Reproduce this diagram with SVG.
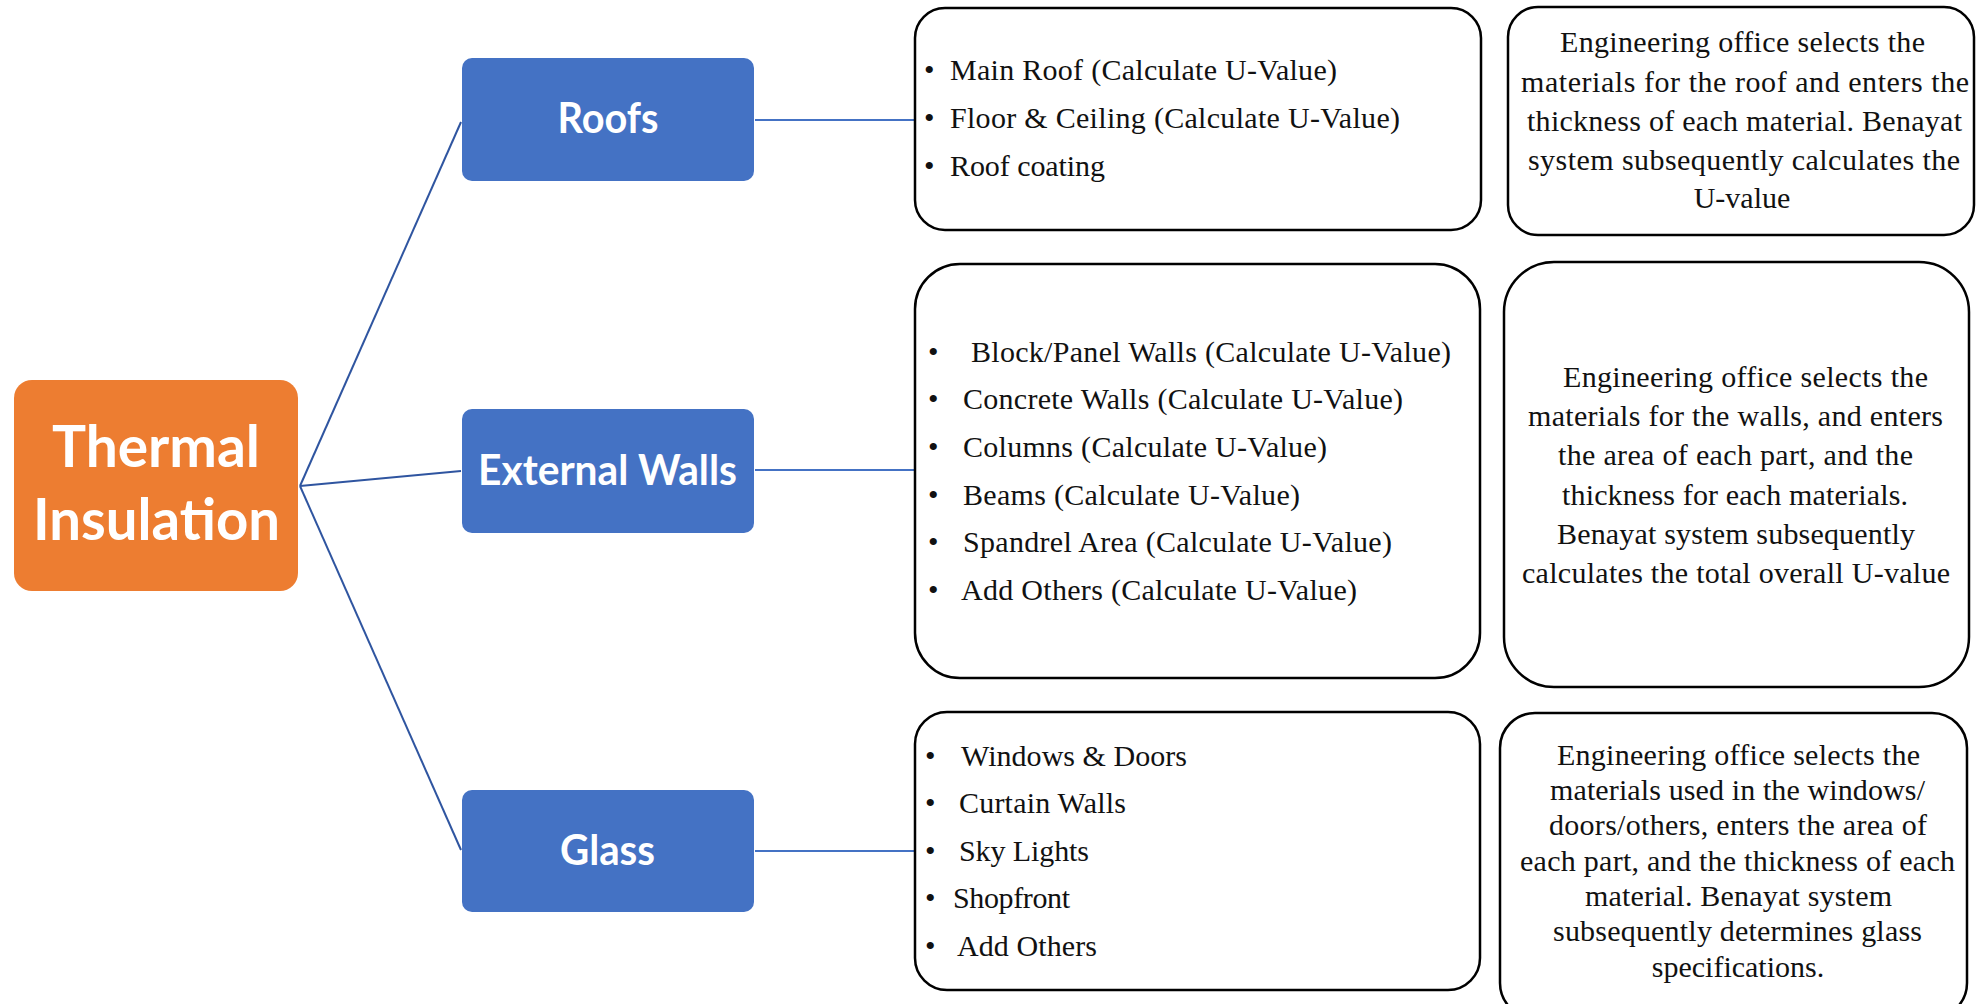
<svg xmlns="http://www.w3.org/2000/svg" width="1980" height="1004" viewBox="0 0 1980 1004">
<style>
.node{fill:#4472C4;}
.root{fill:#ED7D31;}
.lbl{font-family:Lato,"Open Sans","Liberation Sans",sans-serif;font-weight:700;fill:#fff;text-anchor:middle;}
.box{fill:#fff;stroke:#000;stroke-width:2.5;}
.t{font-family:"Liberation Serif","Times New Roman",serif;font-size:30px;fill:#111;}
.c{stroke:#4472C4;stroke-width:2;fill:none;}
.f{stroke:#2F55A0;stroke-width:2;fill:none;}
</style>
<rect width="1980" height="1004" fill="#fff"/>
<g id="connectors">
<line class="f" x1="300" y1="486" x2="461" y2="122"/>
<line class="f" x1="300" y1="486" x2="461" y2="471"/>
<line class="f" x1="300" y1="486" x2="461" y2="850"/>
<line class="c" x1="755" y1="120" x2="915" y2="120"/>
<line class="c" x1="755" y1="470" x2="915" y2="470"/>
<line class="c" x1="755" y1="851" x2="915" y2="851"/>
</g>
<g id="thermal-insulation">
<rect class="root" x="14" y="380" width="284" height="211" rx="18"/>
<text class="lbl" x="156" y="467" font-size="58" textLength="208" lengthAdjust="spacingAndGlyphs">Thermal</text>
<text class="lbl" x="156.5" y="540" font-size="58" textLength="247" lengthAdjust="spacingAndGlyphs">Insulation</text>
</g>
<g id="roofs">
<rect class="node" x="462" y="58" width="292" height="123" rx="10"/>
<text class="lbl" x="608" y="133" font-size="42" textLength="101" lengthAdjust="spacingAndGlyphs">Roofs</text>
</g>
<g id="external-walls">
<rect class="node" x="462" y="409" width="292" height="124" rx="10"/>
<text class="lbl" x="607.5" y="485" font-size="42" textLength="259" lengthAdjust="spacingAndGlyphs">External Walls</text>
</g>
<g id="glass">
<rect class="node" x="462" y="790" width="292" height="122" rx="10"/>
<text class="lbl" x="607.5" y="865" font-size="42" textLength="95" lengthAdjust="spacingAndGlyphs">Glass</text>
</g>
<g id="roofs-list">
<rect class="box" x="915" y="8" width="566" height="222" rx="30"/>
<text class="t" x="924" y="80">•</text>
<text class="t" x="924" y="128">•</text>
<text class="t" x="924" y="176">•</text>
<text class="t" x="950" y="80" textLength="387" lengthAdjust="spacing">Main Roof (Calculate U-Value)</text>
<text class="t" x="950" y="128" textLength="450" lengthAdjust="spacing">Floor &amp; Ceiling (Calculate U-Value)</text>
<text class="t" x="950" y="176" textLength="155" lengthAdjust="spacing">Roof coating</text>
</g>
<g id="roofs-desc">
<rect class="box" x="1508" y="7" width="466" height="228" rx="30"/>
<text class="t" x="1560" y="52" textLength="365" lengthAdjust="spacing">Engineering office selects the</text>
<text class="t" x="1521" y="92" textLength="448" lengthAdjust="spacing">materials for the roof  and enters the</text>
<text class="t" x="1527" y="131" textLength="435" lengthAdjust="spacing">thickness of each material. Benayat</text>
<text class="t" x="1528" y="170" textLength="432" lengthAdjust="spacing">system subsequently calculates the</text>
<text class="t" x="1742" y="208" text-anchor="middle">U-value</text>
</g>
<g id="walls-list">
<rect class="box" x="915" y="264" width="565" height="414" rx="45"/>
<text class="t" x="928" y="362">•</text>
<text class="t" x="928" y="409">•</text>
<text class="t" x="928" y="457">•</text>
<text class="t" x="928" y="505">•</text>
<text class="t" x="928" y="552">•</text>
<text class="t" x="928" y="600">•</text>
<text class="t" x="971" y="362" textLength="480" lengthAdjust="spacing">Block/Panel Walls (Calculate U-Value)</text>
<text class="t" x="963" y="409" textLength="440" lengthAdjust="spacing">Concrete Walls (Calculate U-Value)</text>
<text class="t" x="963" y="457" textLength="364" lengthAdjust="spacing">Columns (Calculate U-Value)</text>
<text class="t" x="963" y="505" textLength="337" lengthAdjust="spacing">Beams (Calculate U-Value)</text>
<text class="t" x="963" y="552" textLength="429" lengthAdjust="spacing">Spandrel Area (Calculate U-Value)</text>
<text class="t" x="961" y="600" textLength="396" lengthAdjust="spacing">Add Others (Calculate U-Value)</text>
</g>
<g id="walls-desc">
<rect class="box" x="1504" y="262" width="465" height="425" rx="50"/>
<text class="t" x="1563" y="387" textLength="365" lengthAdjust="spacing">Engineering office selects the</text>
<text class="t" x="1528" y="426" textLength="415" lengthAdjust="spacing">materials for the walls, and enters</text>
<text class="t" x="1558" y="465" textLength="355" lengthAdjust="spacing">the area of each part, and the</text>
<text class="t" x="1562" y="505" textLength="346" lengthAdjust="spacing">thickness for each materials.</text>
<text class="t" x="1557" y="544" textLength="358" lengthAdjust="spacing">Benayat system subsequently</text>
<text class="t" x="1522" y="583" textLength="428" lengthAdjust="spacing">calculates the total overall U-value</text>
</g>
<g id="glass-list">
<rect class="box" x="915" y="712" width="565" height="278" rx="32"/>
<text class="t" x="925" y="766">•</text>
<text class="t" x="925" y="813">•</text>
<text class="t" x="925" y="861">•</text>
<text class="t" x="925" y="908">•</text>
<text class="t" x="925" y="956">•</text>
<text class="t" x="961" y="766" textLength="226" lengthAdjust="spacing">Windows &amp; Doors</text>
<text class="t" x="959" y="813" textLength="167" lengthAdjust="spacing">Curtain Walls</text>
<text class="t" x="959" y="861" textLength="130" lengthAdjust="spacing">Sky Lights</text>
<text class="t" x="953" y="908" textLength="117" lengthAdjust="spacing">Shopfront</text>
<text class="t" x="957" y="956" textLength="140" lengthAdjust="spacing">Add Others</text>
</g>
<g id="glass-desc">
<rect class="box" x="1500" y="713" width="467" height="305" rx="35"/>
<text class="t" x="1557" y="765" textLength="363" lengthAdjust="spacing">Engineering office selects the</text>
<text class="t" x="1550" y="800" textLength="375" lengthAdjust="spacing">materials used in the windows/</text>
<text class="t" x="1549" y="835" textLength="378" lengthAdjust="spacing">doors/others, enters the area of</text>
<text class="t" x="1520" y="871" textLength="435" lengthAdjust="spacing">each part, and the thickness of each</text>
<text class="t" x="1585" y="906" textLength="307" lengthAdjust="spacing">material. Benayat system</text>
<text class="t" x="1553" y="941" textLength="369" lengthAdjust="spacing">subsequently determines glass</text>
<text class="t" x="1738" y="977" text-anchor="middle">specifications.</text>
</g>
</svg>
